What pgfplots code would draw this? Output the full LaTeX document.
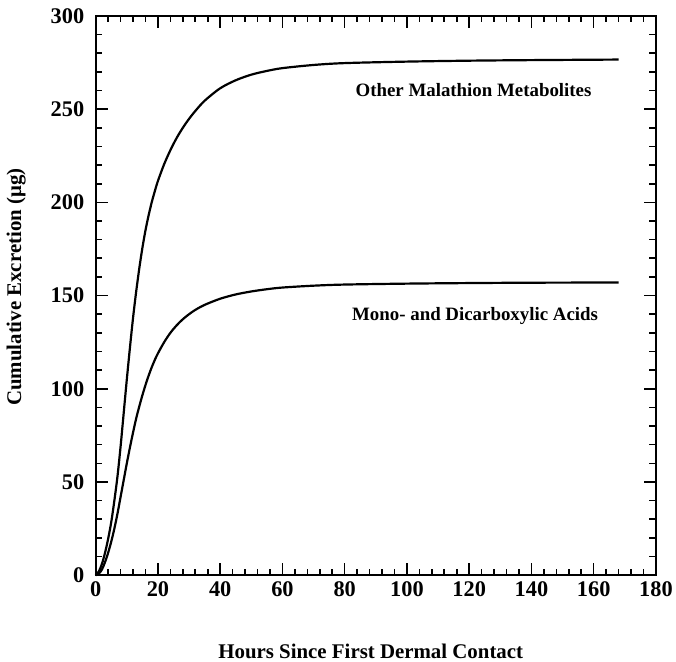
\documentclass[border=0pt]{standalone}
\usepackage{fontspec}
\setmainfont{Liberation Serif}
\usepackage{pgfplots}
\pgfplotsset{compat=1.18}
\begin{document}
\begin{tikzpicture}[x=1bp,y=1bp]
\begin{axis}[
  scale only axis,
  width=562bp, height=561bp,
  xmin=0, xmax=180, ymin=0, ymax=300,
  xtick distance=20, ytick distance=50,
  minor x tick num=4, minor y tick num=4,
  tick align=inside,
  major tick length=12bp, minor tick length=6.5bp,
  axis line style={line width=2bp},
  every tick/.style={line width=1.6bp, black},
  /pgf/number format/assume math mode=true,
  tick label style={font=\bfseries\fontsize{22.5}{26}\selectfont},
  yticklabel style={xshift=-8bp},
  xticklabel style={yshift=-3bp},
  clip=false,
  xlabel={Hours Since First Dermal Contact},
  ylabel={Cumulative Excretion (μg)},
  label style={font=\bfseries\fontsize{21}{25}\selectfont},
  xlabel style={at={(axis description cs:0.491,-0.1355)}, anchor=center},
  ylabel style={at={(axis description cs:-0.142,0.515)}, anchor=center},
]
\addplot[line width=2.2bp, smooth, black] coordinates {
(0,0) (1,2) (2,6) (3,12) (4,19.5) (5,28.5) (6,40) (7,53) (8,69) (9,87) (10,105)
(11,122) (12,138) (13,152) (14,164.5) (15,175.5) (16,185) (17,193) (18,200) (19,206)
(20,211.5) (22,220.5) (24,228) (26,234.5) (28,240) (30,244.8) (32,249) (35,254.5)
(40,261.2) (45,265.5) (50,268.5) (55,270.5) (60,272) (70,273.7) (80,274.7)
(100,275.5) (120,276) (140,276.3) (168,276.6)};
\addplot[line width=2.2bp, smooth, black] coordinates {
(0,0) (1,0.8) (2,3) (3,7) (4,12) (5,18) (6,25) (7,33) (8,42) (9,51) (10,60)
(11,68.5) (12,76.5) (13,84) (14,90.5) (15,96.5) (16,102) (17,107) (18,111.5)
(19,115.5) (20,119) (22,125) (24,130) (26,134) (28,137.3) (30,140) (32,142.3)
(35,145) (40,148.3) (45,150.6) (50,152.2) (55,153.4) (60,154.3) (70,155.3)
(80,155.9) (100,156.4) (120,156.7) (140,156.9) (168,157)};
\node[font=\bfseries\fontsize{19}{23}\selectfont] at (axis cs:121.4,260.4) {Other Malathion Metabolites};
\node[font=\bfseries\fontsize{19}{23}\selectfont] at (axis cs:121.9,139.2) {Mono- and Dicarboxylic Acids};
\path (rel axis cs:-0.1708,-0.1497) (rel axis cs:1.032,1.0285);
\end{axis}
\end{tikzpicture}
\end{document}
